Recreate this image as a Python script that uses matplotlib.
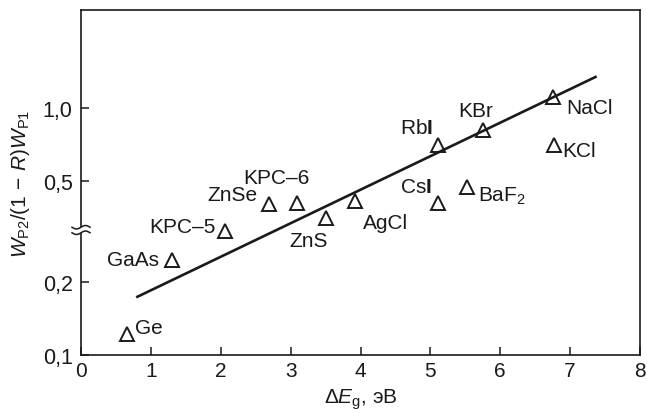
import matplotlib
matplotlib.use('Agg')
import matplotlib.pyplot as plt
import numpy as np

# Global
plt.rcParams['font.family'] = 'Liberation Sans'
plt.rcParams['font.size'] = 15
plt.rcParams['mathtext.fontset'] = 'custom'
plt.rcParams['mathtext.rm'] = 'Liberation Sans'
plt.rcParams['mathtext.it'] = 'Liberation Sans:italic'
plt.rcParams['mathtext.bf'] = 'Liberation Sans:bold'

# Data
materials = ['Ge', 'GaAs', 'KPC–5', 'ZnSe', 'KPC–6', 'ZnS', 'AgCl',
             'RbI', 'KBr', 'NaCl', 'KCl', 'CsI', 'BaF2']
labels = ['Ge', 'GaAs', 'KPC–5', 'ZnSe', 'KPC–6', 'ZnS', 'AgCl',
          r'Rb$\mathbf{I}$', 'KBr', 'NaCl', 'KCl', r'Cs$\mathbf{I}$', r'BaF$_{2}$']
dEg = [0.66, 1.30, 2.06, 2.69, 3.09, 3.51, 3.92, 5.11, 5.75, 6.75, 6.77, 5.11, 5.53]
ratio = [0.122, 0.244, 0.317, 0.406, 0.41, 0.357, 0.415, 0.702, 0.813, 1.107, 0.702, 0.41, 0.472]
fit_x = [0.79, 7.38]
fit_y = [0.1735, 1.353]
yticks = [0.1, 0.2, 0.5, 1.0]
yticklabels = ['0,1', '0,2', '0,5', '1,0']

# label placement (offset pixels, ha)
label_pos = {
    'Ge': (8, 7, 'left'), 'GaAs': (-13, 1, 'right'), 'KPC–5': (-9, 5, 'right'),
    'ZnSe': (-11, 9, 'right'), 'KPC–6': (-20, 25, 'center'), 'ZnS': (-18, -22, 'center'),
    'AgCl': (8, -21, 'left'), 'RbI': (-5, 18, 'right'), 'KBr': (-7, 19, 'center'),
    'NaCl': (14, -10, 'left'), 'KCl': (8, -5, 'left'), 'CsI': (-6, 16, 'right'),
    'BaF2': (11, -8, 'left'),
}

# log axis with the 0.2-0.5 segment a bit stretched (axis break)
lo, hi = np.log10(0.2), np.log10(0.5)
stretch = 0.025

def fwd(y):
    u = np.log10(np.clip(y, 1e-6, None))
    return u + stretch * np.clip((u - lo) / (hi - lo), 0, 1)

_grid = np.logspace(-3, 2, 4000)
def inv(v):
    return np.interp(v, fwd(_grid), _grid)

fig = plt.figure(figsize=(6.47, 4.14), dpi=100)
ax = fig.add_axes([81 / 647, 58 / 414, 559 / 647, 345 / 414])
ax.set_yscale('function', functions=(fwd, inv))

ax.plot(fit_x, fit_y, color='#1a1a1a', linewidth=1.9, solid_capstyle='butt')
ax.plot(dEg, ratio, linestyle='none', marker='^', markersize=10,
        markerfacecolor='none', markeredgecolor='#1a1a1a', markeredgewidth=1.4)

for m, lab, x, y in zip(materials, labels, dEg, ratio):
    dx, dy, ha = label_pos[m]
    ax.annotate(lab, xy=(x, y), xytext=(dx, dy), textcoords='offset pixels',
                ha=ha, va='center', fontsize=15, color='#1a1a1a')

# axis
ax.set_xlim(0, 8)
ax.set_ylim(0.1, 2.552)
ax.set_xticks(np.arange(0, 9, 1))
ax.set_yticks(yticks, yticklabels)
ax.yaxis.set_minor_locator(matplotlib.ticker.NullLocator())
ax.tick_params(direction='in', length=6, width=1.1, color='#1a1a1a',
               labelsize=15.5, labelcolor='#1a1a1a')
ax.tick_params(axis='x', labelsize=15)
ax.tick_params(axis='y', pad=6)
ax.tick_params(axis='x', pad=4)
for s in ax.spines.values():
    s.set_linewidth(1.2)
    s.set_color('#1a1a1a')

ax.set_xlabel(r'$\Delta E_{\mathrm{g}}$, эВ', fontsize=15, color='#1a1a1a', labelpad=5)
ax.set_ylabel(r'$W_{\mathrm{P2}}/(1\,-\,R)W_{\mathrm{P1}}$', fontsize=15,
              color='#1a1a1a', labelpad=8)

# axis break on the y spine
yb = (356 - 231) / 345
hx = 9 / 559
ax.add_patch(plt.Rectangle((-hx, yb - 0.008), 2 * hx, 0.016, transform=ax.transAxes,
                           facecolor='white', edgecolor='none', clip_on=False, zorder=5))
t = np.linspace(-hx, hx, 40)
for off in (-0.008, 0.008):
    ax.plot(t, yb + off + 0.005 * np.sin(t / hx * np.pi), transform=ax.transAxes,
            color='#1a1a1a', linewidth=1.1, clip_on=False, zorder=6)

fig.savefig('out.png', dpi=100)
